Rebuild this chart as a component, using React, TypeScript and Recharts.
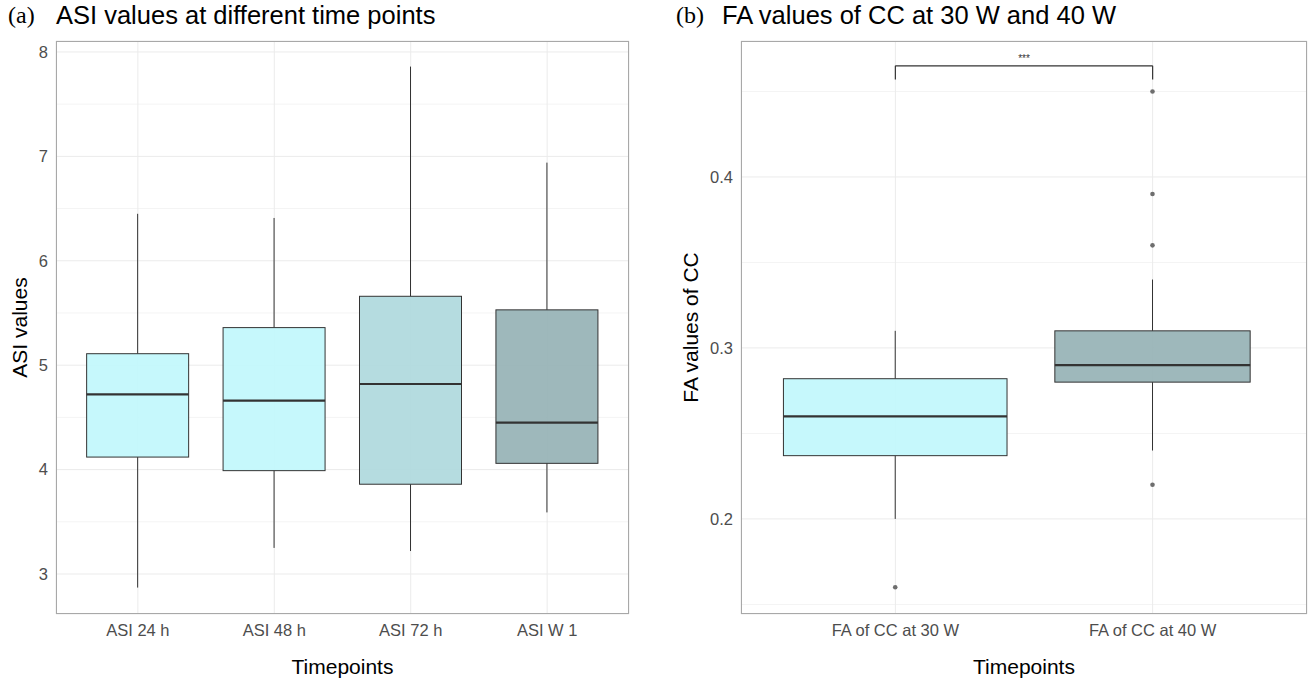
import React from 'react';
import { ComposedChart, Bar, XAxis, YAxis, CartesianGrid, ReferenceLine } from 'recharts';

// ---- Panel (a): ASI values ----
const asiCategories = ['ASI 24 h', 'ASI 48 h', 'ASI 72 h', 'ASI W 1'];
const asiMin = [2.87, 3.25, 3.22, 3.59];
const asiQ1 = [4.12, 3.99, 3.86, 4.06];
const asiMedian = [4.72, 4.66, 4.82, 4.45];
const asiQ3 = [5.11, 5.36, 5.66, 5.53];
const asiMax = [6.45, 6.41, 7.86, 6.94];
const asiOutliers: number[][] = [[], [], [], []];
const asiTicks = [3, 4, 5, 6, 7, 8];
const asiMinorTicks = [3.5, 4.5, 5.5, 6.5, 7.5];
const asiDomain = [2.617, 8.105];

// ---- Panel (b): FA values ----
const faCategories = ['FA of CC at 30 W', 'FA of CC at 40 W'];
const faMin = [0.2, 0.24];
const faQ1 = [0.237, 0.28];
const faMedian = [0.26, 0.29];
const faQ3 = [0.282, 0.31];
const faMax = [0.31, 0.34];
const faOutliers: number[][] = [[0.16], [0.45, 0.39, 0.36, 0.22]];
const faTicks = [0.2, 0.3, 0.4];
const faMinorTicks = [0.15, 0.25, 0.35, 0.45];
const faDomain = [0.1444, 0.4795];
const sigLabel = '***';
const sigBarY = 0.465;
const sigTickY = 0.457;

const asiColors = ['#c2f7fc', '#c2f7fc', '#afd9de', '#97b3b6'];
const asiWidthFrac = [0.75, 0.75, 0.75, 0.75];
const faColors = ['#c2f7fc', '#97b3b6'];
const faWidthFrac = [0.87, 0.76];

const FONT = '"Liberation Sans", Arial, Helvetica, sans-serif';

function buildRows(cats: string[], mn: number[], q1: number[], md: number[], q3: number[], mx: number[], out: number[][]) {
  return cats.map((name, i) => ({
    name,
    range: [mn[i], mx[i]],
    min: mn[i],
    q1: q1[i],
    median: md[i],
    q3: q3[i],
    max: mx[i],
    outliers: out[i],
  }));
}

const asiData = buildRows(asiCategories, asiMin, asiQ1, asiMedian, asiQ3, asiMax, asiOutliers);
const faData = buildRows(faCategories, faMin, faQ1, faMedian, faQ3, faMax, faOutliers);

const BoxShape = (props: any) => {
  const { x, y, width, height, payload, index, colors, fracs } = props;
  if (!payload) return null;
  const top = Math.min(y, y + height);
  const h = Math.abs(height);
  const { min, q1, median, q3, max, outliers } = payload;
  const sy = (v: number) => top + ((max - v) / (max - min)) * h;
  const cx = x + width / 2;
  const bw = width * fracs[index];
  const bx = cx - bw / 2;
  const stroke = '#333333';
  return (
    <g>
      <line x1={cx} x2={cx} y1={sy(max)} y2={sy(q3)} stroke={stroke} strokeWidth={1} />
      <line x1={cx} x2={cx} y1={sy(q1)} y2={sy(min)} stroke={stroke} strokeWidth={1} />
      <rect x={bx} y={sy(q3)} width={bw} height={sy(q1) - sy(q3)} fill={colors[index]} fillOpacity={0.93} stroke={stroke} strokeWidth={1} />
      <line x1={bx} x2={bx + bw} y1={sy(median)} y2={sy(median)} stroke={stroke} strokeWidth={2.2} />
      {(outliers || []).map((o: number, k: number) => (
        <circle key={k} cx={cx} cy={sy(o)} r={2.3} fill="#6e6e6e" />
      ))}
    </g>
  );
};

const YTitle = (props: any) => {
  const vb = props.viewBox || { y: 0, height: 0 };
  const cy = vb.y + vb.height / 2;
  const cx = props.cx;
  return (
    <text x={cx} y={cy} transform={`rotate(-90, ${cx}, ${cy})`} textAnchor="middle" dominantBaseline="central" fontSize={21} fill="#000" fontFamily={FONT}>
      {props.text}
    </text>
  );
};

const XTitle = (props: any) => {
  const vb = props.viewBox || { x: 0, width: 0 };
  return (
    <text x={vb.x + vb.width / 2} y={props.ty} textAnchor="middle" dominantBaseline="central" fontSize={21} fill="#000" fontFamily={FONT}>
      {props.text}
    </text>
  );
};

const minorGen = (values: number[], domain: number[]) => (args: any) => {
  const yAxis = args && args.yAxis;
  if (yAxis && typeof yAxis.scale === 'function') {
    return values.map((v) => yAxis.scale(v));
  }
  const off = args.offset;
  return values.map((v) => off.top + ((domain[1] - v) / (domain[1] - domain[0])) * off.height);
};

const tickStyle = { fill: '#4d4d4d', fontSize: 16.5, fontFamily: FONT };

const PLOT_TOP = 41;
const PLOT_BOTTOM = 614;
const H = 680;

export default function App() {
  const lW = 660;
  const lPlotLeft = 56;
  const lPlotRight = 629;
  const lU = (lPlotRight - lPlotLeft) / 4.2;
  const rX = 660;
  const rW = 651;
  const rPlotLeft = 741 - rX;
  const rPlotRight = 1307 - rX;
  const rU = (rPlotRight - rPlotLeft) / 2.2;

  const titleSerif: React.CSSProperties = { position: 'absolute', top: 2, fontFamily: '"Liberation Serif", "Times New Roman", serif', fontSize: 24, color: '#000' };
  const titleSans: React.CSSProperties = { position: 'absolute', top: 1, fontFamily: FONT, fontSize: 25.5, color: '#000' };

  return (
    <div style={{ position: 'absolute', left: 0, top: 0, width: 1311, height: 680, background: '#fff', fontFamily: FONT }}>
      <div style={{ ...titleSerif, left: 8 }}>(a)</div>
      <div style={{ ...titleSans, left: 56 }}>ASI values at different time points</div>
      <div style={{ ...titleSerif, left: 676 }}>(b)</div>
      <div style={{ ...titleSans, left: 722 }}>FA values of CC at 30 W and 40 W</div>

      {/* Left chart */}
      <div style={{ position: 'absolute', left: 0, top: 0 }}>
        <ComposedChart width={lW} height={H} data={asiData} margin={{ top: PLOT_TOP, right: lW - lPlotRight, bottom: 0, left: 0 }} barCategoryGap={0} barGap={0}>
          <CartesianGrid stroke="#f4f4f4" strokeWidth={1} vertical={false} horizontalCoordinatesGenerator={minorGen(asiMinorTicks, asiDomain)} />
          <CartesianGrid stroke="#ebebeb" strokeWidth={1} />
          <XAxis
            dataKey="name"
            type="category"
            padding={{ left: 0.1 * lU, right: 0.1 * lU }}
            height={H - PLOT_BOTTOM}
            axisLine={false}
            tickLine={false}
            tickSize={0}
            tickMargin={10}
            tick={tickStyle}
            interval={0}
            label={<XTitle text="Timepoints" ty={666} />}
          />
          <YAxis
            type="number"
            domain={asiDomain}
            ticks={asiTicks}
            allowDataOverflow
            width={lPlotLeft}
            axisLine={false}
            tickLine={false}
            tickSize={0}
            tickMargin={8}
            tick={tickStyle}
            label={<YTitle text="ASI values" cx={19} />}
          />
          <Bar dataKey="range" isAnimationActive={false} shape={(p: any) => <BoxShape {...p} colors={asiColors} fracs={asiWidthFrac} />} />
        </ComposedChart>
        <div style={{ position: 'absolute', left: lPlotLeft, top: PLOT_TOP, width: lPlotRight - lPlotLeft, height: PLOT_BOTTOM - PLOT_TOP, border: '1px solid #a8a8a8', boxSizing: 'border-box', pointerEvents: 'none' }} />
      </div>

      {/* Right chart */}
      <div style={{ position: 'absolute', left: rX, top: 0 }}>
        <ComposedChart width={rW} height={H} data={faData} margin={{ top: PLOT_TOP, right: rW - rPlotRight, bottom: 0, left: 0 }} barCategoryGap={0} barGap={0}>
          <CartesianGrid stroke="#f4f4f4" strokeWidth={1} vertical={false} horizontalCoordinatesGenerator={minorGen(faMinorTicks, faDomain)} />
          <CartesianGrid stroke="#ebebeb" strokeWidth={1} />
          <XAxis
            dataKey="name"
            type="category"
            padding={{ left: 0.1 * rU, right: 0.1 * rU }}
            height={H - PLOT_BOTTOM}
            axisLine={false}
            tickLine={false}
            tickSize={0}
            tickMargin={10}
            tick={tickStyle}
            interval={0}
            label={<XTitle text="Timepoints" ty={666} />}
          />
          <YAxis
            type="number"
            domain={faDomain}
            ticks={faTicks}
            allowDataOverflow
            width={rPlotLeft}
            axisLine={false}
            tickLine={false}
            tickSize={0}
            tickMargin={8}
            tick={tickStyle}
            label={<YTitle text="FA values of CC" cx={30} />}
          />
          <Bar dataKey="range" isAnimationActive={false} shape={(p: any) => <BoxShape {...p} colors={faColors} fracs={faWidthFrac} />} />
          <ReferenceLine
            segment={[{ x: faCategories[0], y: sigBarY }, { x: faCategories[1], y: sigBarY }]}
            stroke="#333"
            strokeWidth={1.2}
            label={{ value: sigLabel, position: 'top', fontSize: 10, fill: '#333', offset: 4 }}
          />
          <ReferenceLine segment={[{ x: faCategories[0], y: sigBarY }, { x: faCategories[0], y: sigTickY }]} stroke="#333" strokeWidth={1.2} />
          <ReferenceLine segment={[{ x: faCategories[1], y: sigBarY }, { x: faCategories[1], y: sigTickY }]} stroke="#333" strokeWidth={1.2} />
        </ComposedChart>
        <div style={{ position: 'absolute', left: rPlotLeft, top: PLOT_TOP, width: rPlotRight - rPlotLeft, height: PLOT_BOTTOM - PLOT_TOP, border: '1px solid #a8a8a8', boxSizing: 'border-box', pointerEvents: 'none' }} />
      </div>
    </div>
  );
}
